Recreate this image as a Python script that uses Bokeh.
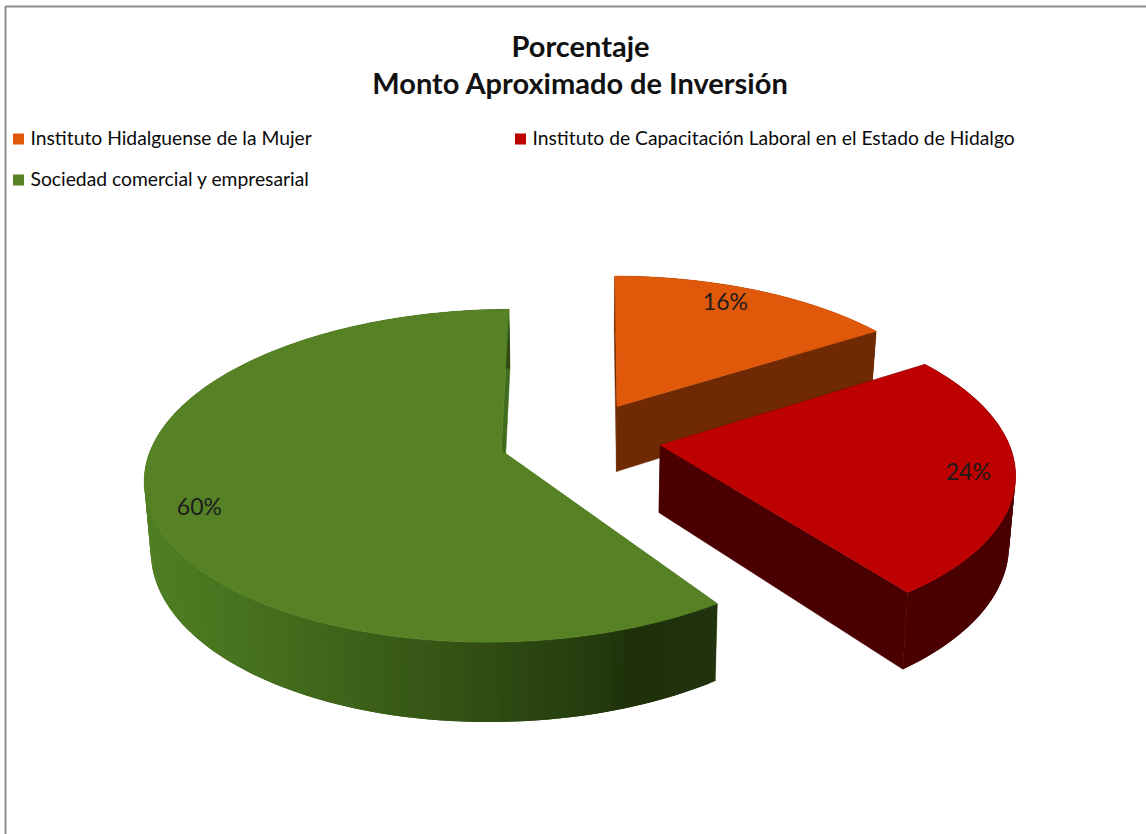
import math
from bokeh.embed import file_html
from bokeh.resources import INLINE
from bokeh.models import Range1d, ColumnDataSource
from bokeh.plotting import figure
from bokeh.core.properties import value

TITLE_LINES = ["Porcentaje", "Monto Aproximado de Inversión"]
CATEGORIES = ["Instituto Hidalguense de la Mujer",
              "Instituto de Capacitación Laboral en el Estado de Hidalgo",
              "Sociedad comercial y empresarial"]
VALUES = [16, 24, 60]
TOP_COLORS = ["#e0590a", "#bd0000", "#568225"]
SIDE_COLORS = ["#6f2a03", "#4a0000", "#3f6b1c"]
GREEN_RIM_STOPS = [(145, (80, 127, 36)), (300, (66, 106, 28)), (450, (52, 83, 21)),
                   (600, (35, 58, 14)), (630, (31, 48, 10)), (720, (34, 52, 16))]
LABEL_SHIFT_DEG = [-3.0, 0.0, -3.5]
START_TRIM_DEG = [1.0, 0.0, 2.0]

# layout of the tilted pie
X0, Y0, RX, RY, PERSP, DEPTH, SHRINK = 579.0, 438.0, 347.0, 159.0, 0.15, 67.0, 0.985
EXPLODE, START_DEG = 0.235, -0.5
W, H = 1146, 834


def top(u, v):
    s = 1 + PERSP * v
    return X0 + RX * u / s, Y0 - RY * v / s


def low(u, v):
    x, y = top(u, v)
    return X0 + (x - X0) * SHRINK, y + DEPTH / (1 + PERSP * v)


def rim_colour(x):
    stops = GREEN_RIM_STOPS
    for (x1, c1), (x2, c2) in zip(stops, stops[1:]):
        if x <= x2:
            f = max(0.0, (x - x1) / (x2 - x1))
            return "#%02x%02x%02x" % tuple(int(a + (b - a) * f) for a, b in zip(c1, c2))
    return "#%02x%02x%02x" % stops[-1][1]


p = figure(width=W, height=H, x_range=Range1d(0, W), y_range=Range1d(H, 0),
           output_backend="svg", toolbar_location=None, min_border=0)
p.axis.visible = False
p.grid.visible = False
p.outline_line_color = None
p.background_fill_color = "white"
p.border_fill_color = "white"

# chart-area border
p.line([5, 5, W], [H, 6, 6], line_color="#8c8c8c", line_width=2)


def poly(pts, colour, edge=False):
    p.patch([a[0] for a in pts], [a[1] for a in pts], fill_color=colour,
            line_color=colour if edge else None, line_width=0.5)


total = sum(VALUES)
starts, a = [], START_DEG
for v in VALUES:
    starts.append(a)
    a += 360.0 * v / total

labels_x, labels_y, labels_t = [], [], []
for i in (0, 2, 1):  # painter's order: back, left, front right
    v = VALUES[i]
    a0 = starts[i]
    a1 = a0 + 360.0 * v / total
    mid = math.radians((a0 + a1) / 2)
    a0 += START_TRIM_DEG[i]
    ou, ov = EXPLODE * math.sin(mid), EXPLODE * math.cos(mid)
    n = max(4, int((a1 - a0) / 1.0))
    ang = [math.radians(a0 + (a1 - a0) * k / n) for k in range(n + 1)]
    arc = [(ou + math.sin(t), ov + math.cos(t)) for t in ang]
    apex = (ou, ov)

    # radial faces
    for e in (arc[0], arc[-1]):
        poly([top(*apex), top(*e), low(*e), low(*apex)], SIDE_COLORS[i], edge=True)
    # outer rim: each quad overlaps the next one so that no seams show
    for k in range(n):
        a_, b_ = arc[k], arc[min(k + 2, n)]
        q = [top(*a_), top(*b_), low(*b_), low(*a_)]
        c = rim_colour(sum(t[0] for t in q) / 4) if i == 2 else SIDE_COLORS[i]
        poly(q, c)
    # top face
    poly([top(*apex)] + [top(*c) for c in arc], TOP_COLORS[i], edge=True)

    lab = mid + math.radians(LABEL_SHIFT_DEG[i])
    lx, ly = top(ou + 0.87 * math.sin(lab), ov + 0.87 * math.cos(lab))
    labels_x.append(lx)
    labels_y.append(ly)
    labels_t.append(f"{v}%")

p.text(labels_x, labels_y, text=labels_t, text_font=value("Lato"), text_font_size="23px",
       text_color="#1c1c1c", text_align="center", text_baseline="middle")

# title
p.text([580, 580], [45, 82], text=TITLE_LINES, text_font=value("Lato"), text_font_size="29px",
       text_font_style="bold", text_color="#111111", text_align="center", text_baseline="middle")

# legend
LEG_X = [18, 520, 18]
LEG_Y = [138.5, 138.5, 179.5]
leg = ColumnDataSource(dict(x=LEG_X, y=LEG_Y, c=TOP_COLORS, t=CATEGORIES))
p.rect("x", "y", width=11, height=11, fill_color="c", line_color=None, source=leg)
p.text([x + 12 for x in LEG_X], [y - 2 for y in LEG_Y], text=CATEGORIES, text_font=value("Lato"),
       text_font_size="19.3px", text_color="#0a0a0a", text_align="left", text_baseline="middle")

open("out.html", "w").write(file_html(p, INLINE))
